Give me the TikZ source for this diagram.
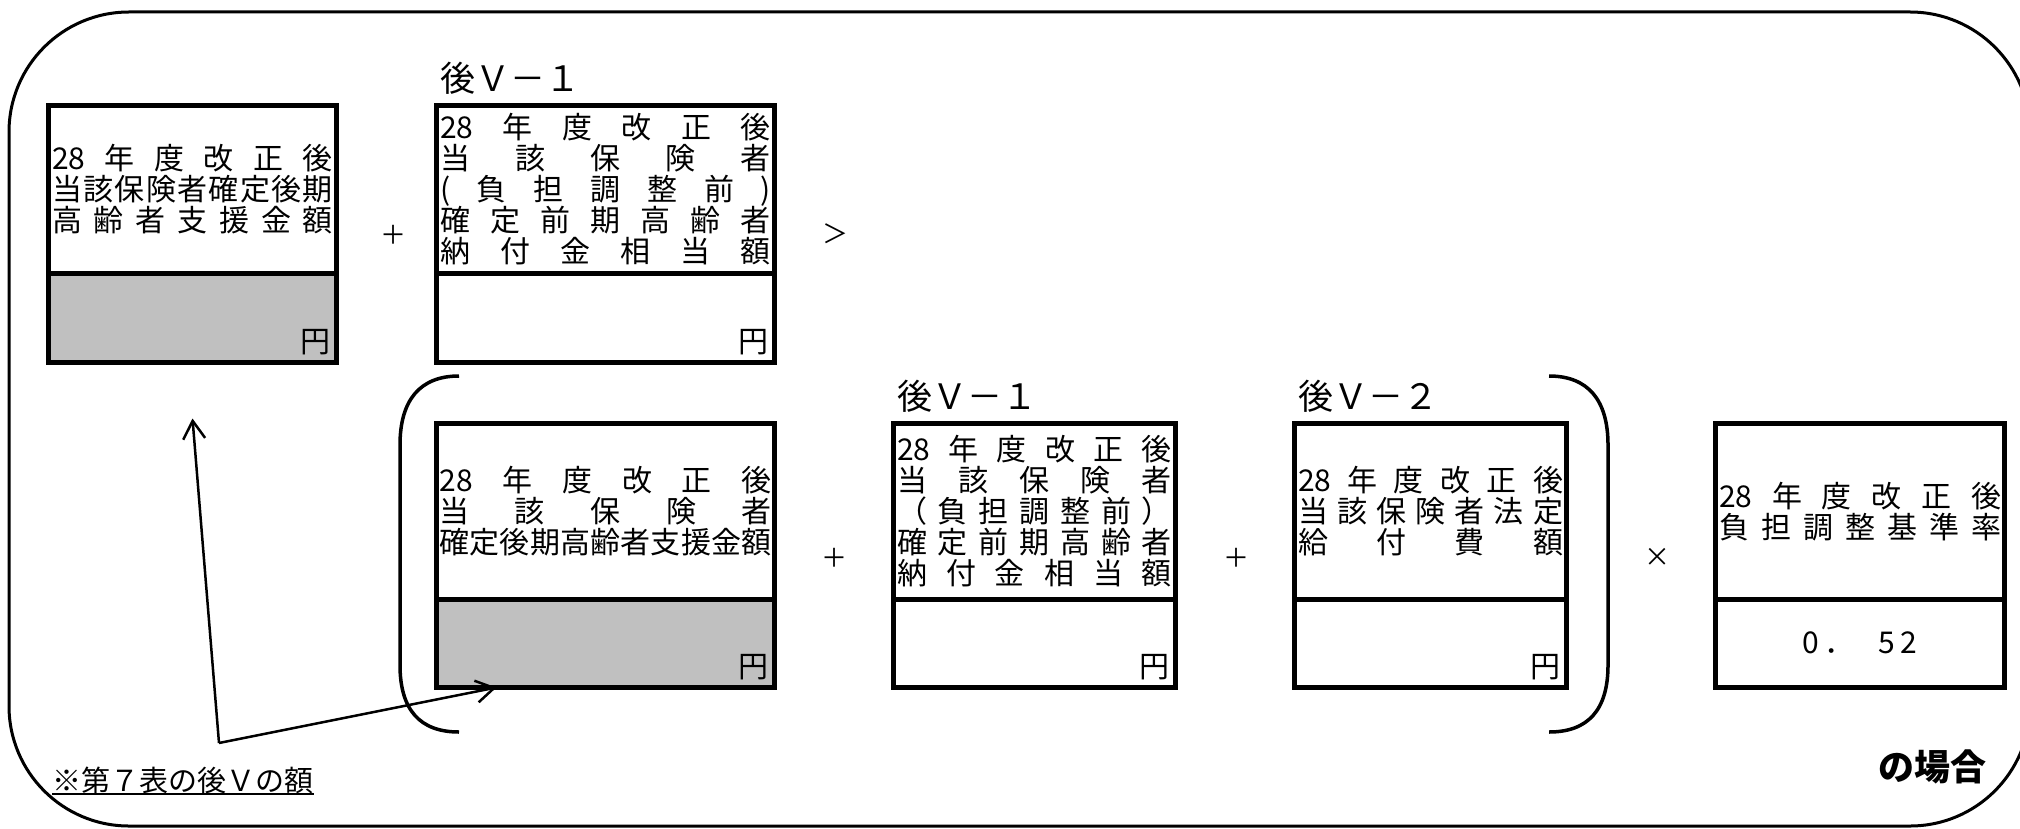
\documentclass[tikz,border=0pt]{standalone}
\usepackage{fontspec}
\newfontfamily\cjk{Noto Sans CJK JP}
\usetikzlibrary{arrows.meta}
\definecolor{cellgray}{HTML}{C0C0C0}
\newcommand\bodyfont{\cjk\fontsize{3mm}{3.1mm}\selectfont\normalbaselineskip=3.1mm\lineskiplimit=-1mm\relax}
\newcommand\opfont{\cjk\fontsize{2.6mm}{3mm}\selectfont}
\newcommand\tagfont{\cjk\fontsize{3.5mm}{4mm}\selectfont}
\newcommand\notefont{\cjk\fontsize{2.9mm}{3.2mm}\selectfont}
\newcommand\casefont{\cjk\bfseries\fontsize{3.6mm}{4mm}\selectfont}
\def\spreadsep#1{\ifx\relax#1\else\hfill#1\expandafter\spreadsep\fi}
\newcommand\cellrow[2]{\leavevmode\hbox to\linewidth{#1\spreadsep#2\relax}}

\tikzset{
  frame/.style={line width=0.3mm, rounded corners=12mm},
  headcell/.style={draw, line width=0.5mm, inner sep=0pt, outer sep=0pt, font=\bodyfont},
  valcell/.style={draw, line width=0.5mm, inner sep=0pt, outer sep=0pt, anchor=north, font=\bodyfont},
  yen/.style={font=\bodyfont, inner sep=0pt, anchor=base east},
  op/.style={font=\opfont, inner sep=0pt},
  tag/.style={font=\tagfont, inner sep=0pt, anchor=west},
  note/.style={font=\notefont, inner sep=0pt, anchor=west},
  case/.style={font=\casefont, inner sep=0pt, anchor=east},
  paren/.style={line width=0.35mm},
  pointer/.style={line width=0.25mm, -{Straight Barb[length=1.8mm,width=2.2mm]}}
}

\begin{document}
\begin{tikzpicture}[x=0.1mm, y=-0.1mm]
\useasboundingbox (0,0) rectangle (2020,828);
\clip (0,0) rectangle (2020,828);
\draw[frame] (1000,12) -- (2030,12) -- (2030,826) -- (9,826) -- (9,12) -- cycle;

\node[headcell, minimum width=28.8mm, minimum height=16.75mm, text width=28.1mm] (hA) at (192.5,189.25)
  {\cellrow{28}{年度改正後}\\\cellrow{当}{該保険者確定後期}\\\cellrow{高}{齢者支援金額}};
\node[valcell, fill=cellgray, minimum width=28.8mm, minimum height=8.95mm] (vA) at (hA.south) {};
\node[yen] (yA) at ([shift={(-5,-10)}]vA.south east) {円};

\node[headcell, minimum width=33.8mm, minimum height=16.75mm, text width=33.1mm] (hB) at (605.5,189.25)
  {\cellrow{28}{年度改正後}\\\cellrow{当}{該保険者}\\\cellrow{(}{負担調整前)}\\\cellrow{確}{定前期高齢者}\\\cellrow{納}{付金相当額}};
\node[valcell, minimum width=33.8mm, minimum height=8.95mm] (vB) at (hB.south) {};
\node[yen] (yB) at ([shift={(-5,-10)}]vB.south east) {円};
\node[tag] (tB) at ([shift={(3,-27)}]hB.north west) {後Ｖ－１};

\node[headcell, minimum width=33.8mm, minimum height=17.55mm, text width=33.2mm] (hC) at (605.5,511.25)
  {\cellrow{28}{年度改正後}\\\cellrow{当}{該保険者}\\\cellrow{確}{定後期高齢者支援金額}};
\node[valcell, fill=cellgray, minimum width=33.8mm, minimum height=8.85mm] (vC) at (hC.south) {};
\node[yen] (yC) at ([shift={(-5,-10)}]vC.south east) {円};

\node[headcell, minimum width=28.2mm, minimum height=17.55mm, text width=27.5mm] (hD) at (1034.5,511.25)
  {\cellrow{28}{年度改正後}\\\cellrow{当}{該保険者}\\\cellrow{（}{負担調整前）}\\\cellrow{確}{定前期高齢者}\\\cellrow{納}{付金相当額}};
\node[valcell, minimum width=28.2mm, minimum height=8.85mm] (vD) at (hD.south) {};
\node[yen] (yD) at ([shift={(-5,-10)}]vD.south east) {円};
\node[tag] (tD) at ([shift={(3,-27)}]hD.north west) {後Ｖ－１};

\node[headcell, minimum width=27.2mm, minimum height=17.55mm, text width=26.5mm] (hE) at (1430.5,511.25)
  {\cellrow{28}{年度改正後}\\\cellrow{当}{該保険者法定}\\\cellrow{給}{付費額}};
\node[valcell, minimum width=27.2mm, minimum height=8.85mm] (vE) at (hE.south) {};
\node[yen] (yE) at ([shift={(-5,-10)}]vE.south east) {円};
\node[tag] (tE) at ([shift={(3,-27)}]hE.north west) {後Ｖ－２};

\node[headcell, minimum width=28.9mm, minimum height=17.55mm, text width=28.2mm] (hF) at (1860,511.25)
  {\cellrow{28}{年度改正後}\\\cellrow{負}{担調整基準率}};
\node[valcell, minimum width=28.9mm, minimum height=8.85mm] (vF) at (hF.south) {0\,．\hspace{.8em}5\hspace{.2em}2};

\node[op] (plusAB) at (393,235) {＋};
\node[op] (gtB) at (835,234) {＞};
\node[op] (plusCD) at (834,558) {＋};
\node[op] (plusDE) at (1236,558) {＋};
\node[op] (timesF) at (1657,557) {×};

\draw[paren] (459,376) .. controls (420,376) and (400,400) .. (400,445) -- (400,665) .. controls (400,710) and (420,732) .. (459,732);
\draw[paren] (1549,376) .. controls (1588,376) and (1608,400) .. (1608,445) -- (1608,665) .. controls (1608,710) and (1588,732) .. (1549,732);

\node[note] (note) at (52,780) {※第７表の後Ｖの額};
\draw[line width=0.2mm] (note.south west) -- (note.south east);
\coordinate (src) at (219,743);
\draw[pointer] (src) -- ([yshift=-5.6mm]vA.south);
\draw[pointer] (src) -- ([xshift=6mm]vC.south west);

\node[case] (case) at (1987,767) {の場合};
\end{tikzpicture}
\end{document}
